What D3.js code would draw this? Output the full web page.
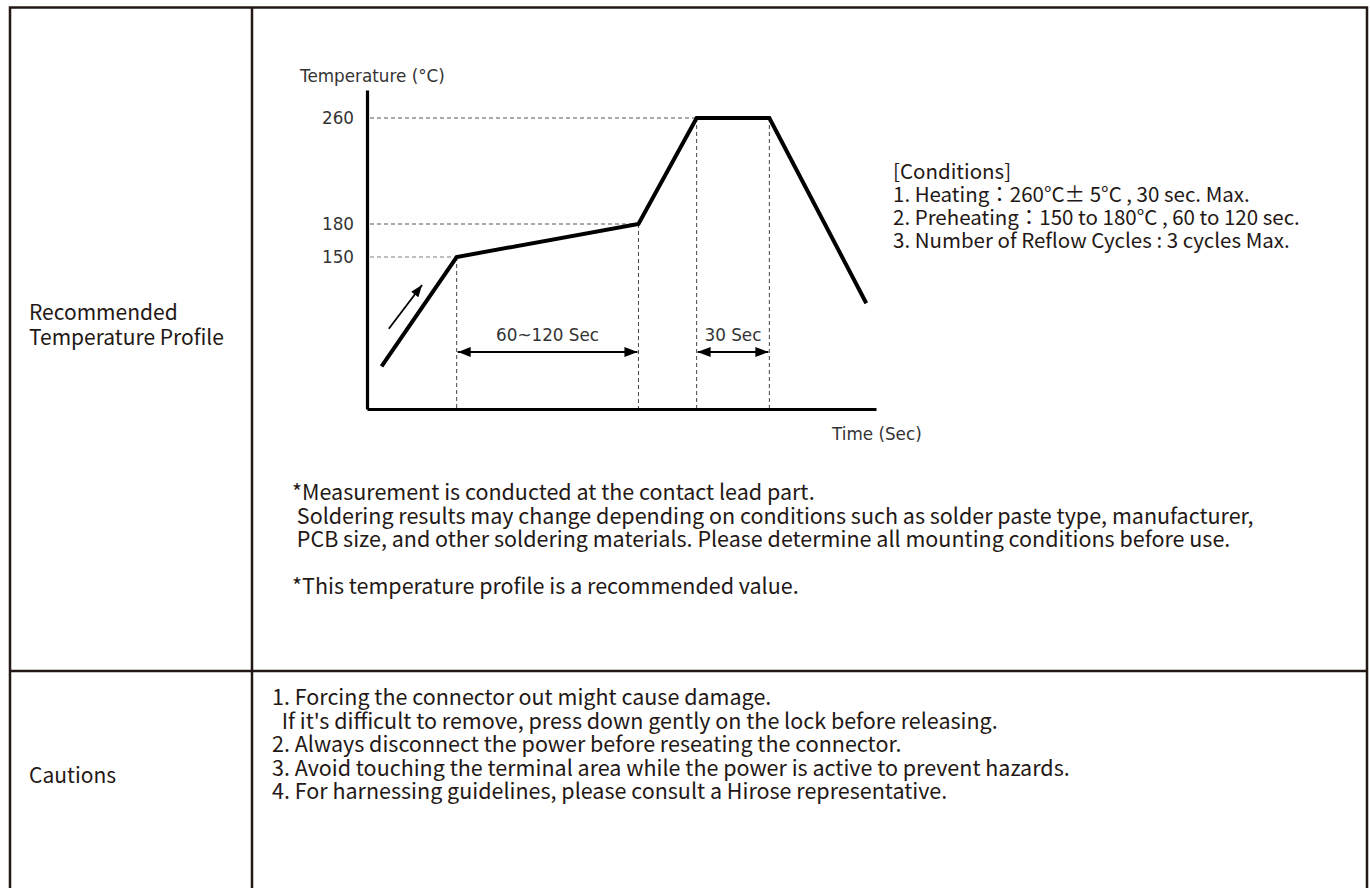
<!DOCTYPE html>
<html>
<head>
<meta charset="utf-8">
<script src="https://cdn.jsdelivr.net/npm/d3@7"></script>
<style>
  body { margin: 0; background: #fff; }
  svg text { white-space: pre; }
</style>
</head>
<body>
<svg id="chart" width="1370" height="888"></svg>
<script>
// profile points (time in sec, temperature in degC) - schematic values
var profileTime = [6, 37, 112, 136, 166, 206];
var profileTemp = [60, 150, 180, 260, 260, 112];

var tempTicks = [150, 180, 260];
var markTimes = [37, 112, 136, 166];

var spanStart = [37, 136];
var spanEnd = [112, 166];
var spanLabels = ["60~120 Sec", "30 Sec"];

// little "heating up" arrow next to the ramp
var riseFrom = [9, 91];
var riseTo = [22.7, 127];

var rowLabels = [["Recommended", "Temperature Profile"], ["Cautions"]];
var conditions = [
  "[Conditions]",
  "1. Heating：260°C± 5°C , 30 sec. Max.",
  "2. Preheating：150 to 180°C , 60 to 120 sec.",
  "3. Number of Reflow Cycles : 3 cycles Max."
];
var notes = [
  "*Measurement is conducted at the contact lead part.",
  " Soldering results may change depending on conditions such as solder paste type, manufacturer,",
  " PCB size, and other soldering materials. Please determine all mounting conditions before use.",
  "",
  "*This temperature profile is a recommended value."
];
var cautions = [
  "1. Forcing the connector out might cause damage.",
  "  If it's difficult to remove, press down gently on the lock before releasing.",
  "2. Always disconnect the power before reseating the connector.",
  "3. Avoid touching the terminal area while the power is active to prevent hazards.",
  "4. For harnessing guidelines, please consult a Hirose representative."
];

var svg = d3.select("#chart");
var ink = "#231815";
var jp = "'Noto Sans CJK JP', 'Noto Sans', sans-serif";
var chartFont = "'DejaVu Sans', Verdana, sans-serif";
var chartSize = 16.8;

svg.append("rect").attr("width", 1370).attr("height", 888).attr("fill", "#fff");

// table frame
var frame = svg.append("g").attr("stroke", ink).attr("stroke-width", 2.5).attr("fill", "none");
frame.append("path").attr("d", "M10,900 V7.5 H1367 V900");
frame.append("line").attr("x1", 252).attr("x2", 252).attr("y1", 7.5).attr("y2", 900);
frame.append("line").attr("x1", 10).attr("x2", 1367).attr("y1", 671).attr("y2", 671);

// multi-line text as one element with a tspan per line
function block(lines, x0, y0, step, size) {
  var t = svg.append("text").attr("font-family", jp).attr("font-size", size).attr("fill", ink);
  lines.forEach(function(s, i) {
    if (!s) return;
    t.append("tspan").attr("x", x0).attr("y", y0 + i * step).text(s);
  });
}

// left column labels
block(rowLabels[0], 29, 320, 25, 21);
block(rowLabels[1], 29, 783, 25, 21);

// scales (the drawing is schematic so temperature is piecewise)
var x = d3.scaleLinear().domain([0, 210]).range([367, 876]);
var y = d3.scaleLinear().domain([25, 150, 180, 260, 281]).range([409, 257, 224, 118, 90]);

var g = svg.append("g");

// reference dashes
g.selectAll(".hdash").data(tempTicks).enter().append("line")
  .attr("class", "hdash")
  .attr("x1", x(0) + 3)
  .attr("x2", function(d) { return x(profileTime[profileTemp.indexOf(d)]); })
  .attr("y1", function(d) { return y(d); })
  .attr("y2", function(d) { return y(d); })
  .attr("stroke", function(d) { return d == 150 ? "#aaa" : "#555"; })
  .attr("stroke-width", function(d) { return d == 150 ? 1.6 : 1; })
  .attr("stroke-dasharray", "4,3");

g.selectAll(".vdash").data(markTimes).enter().append("line")
  .attr("class", "vdash")
  .attr("x1", function(d) { return x(d); })
  .attr("x2", function(d) { return x(d); })
  .attr("y1", function(d) { return y(profileTemp[profileTime.indexOf(d)]); })
  .attr("y2", y(25))
  .attr("stroke", "#444").attr("stroke-width", 1).attr("stroke-dasharray", "4,3");

// axes
var yAxis = g.append("g").attr("transform", "translate(" + x(0) + ",0)")
  .call(d3.axisLeft(y).tickValues(tempTicks).tickSize(0).tickPadding(13));
var xAxis = g.append("g").attr("transform", "translate(0," + y(25) + ")")
  .call(d3.axisBottom(x).tickValues([]).tickSize(0));
[yAxis, xAxis].forEach(function(a) {
  a.select(".domain").attr("stroke", "#000").attr("stroke-width", 3.2);
  a.selectAll("text").attr("font-family", chartFont).attr("font-size", chartSize).attr("fill", "#333");
});

g.append("text").attr("x", 300).attr("y", 82)
  .attr("font-family", chartFont).attr("font-size", chartSize).attr("fill", "#333").text("Temperature (°C)");
g.append("text").attr("x", 832).attr("y", 440)
  .attr("font-family", chartFont).attr("font-size", chartSize).attr("fill", "#333").text("Time (Sec)");

// the profile
var line = d3.line().x(function(d) { return x(d[0]); }).y(function(d) { return y(d[1]); });
g.append("path").datum(d3.zip(profileTime, profileTemp))
  .attr("d", line).attr("fill", "none").attr("stroke", "#000")
  .attr("stroke-width", 4).attr("stroke-linejoin", "miter");

// arrow heads
var defs = svg.append("defs");
defs.append("marker").attr("id", "head").attr("viewBox", "0 0 13 10")
  .attr("refX", 13).attr("refY", 5).attr("markerWidth", 13).attr("markerHeight", 10)
  .attr("markerUnits", "userSpaceOnUse").attr("orient", "auto-start-reverse")
  .append("path").attr("d", "M0,0 L13,5 L0,10 Z").attr("fill", "#000");
defs.append("marker").attr("id", "small").attr("viewBox", "0 0 12 9")
  .attr("refX", 12).attr("refY", 4.5).attr("markerWidth", 12).attr("markerHeight", 9)
  .attr("markerUnits", "userSpaceOnUse").attr("orient", "auto")
  .append("path").attr("d", "M0,0 L12,4.5 L0,9 Z").attr("fill", "#000");

var spanY = 352;
spanStart.forEach(function(s, i) {
  g.append("line").attr("x1", x(s) + 1).attr("x2", x(spanEnd[i]) - 1)
    .attr("y1", spanY).attr("y2", spanY)
    .attr("stroke", "#000").attr("stroke-width", 2)
    .attr("marker-start", "url(#head)").attr("marker-end", "url(#head)");
  g.append("text").attr("x", (x(s) + x(spanEnd[i])) / 2).attr("y", 341)
    .attr("text-anchor", "middle").attr("font-family", chartFont).attr("font-size", chartSize)
    .attr("fill", "#333").text(spanLabels[i]);
});

g.append("line")
  .attr("x1", x(riseFrom[0])).attr("y1", y(riseFrom[1]))
  .attr("x2", x(riseTo[0])).attr("y2", y(riseTo[1]))
  .attr("stroke", "#000").attr("stroke-width", 1.8).attr("marker-end", "url(#small)");

// text blocks
block(conditions, 893, 179, 23, 20.5);
block(notes, 292, 500, 23.5, 21.5);
block(cautions, 272, 705, 23.5, 21.5);
</script>
</body>
</html>
